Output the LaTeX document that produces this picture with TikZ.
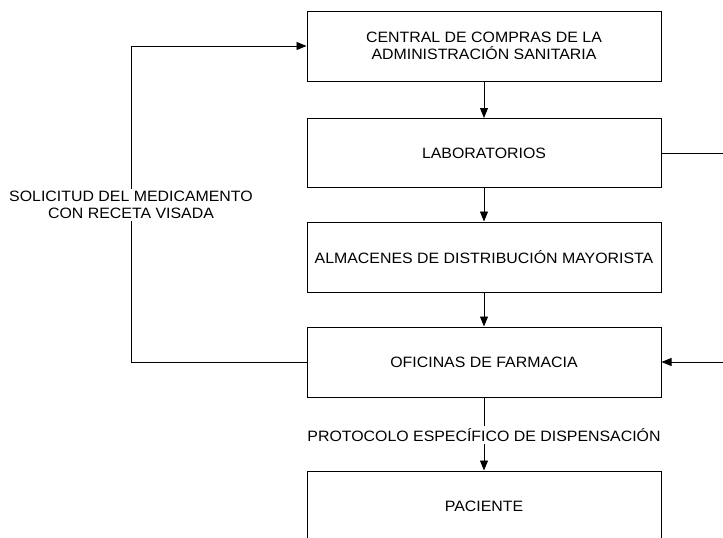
\documentclass[tikz,border=0pt]{standalone}
\usepackage{fontspec}
\setmainfont{Liberation Sans}[FakeStretch=1.06]
\usetikzlibrary{arrows.meta}
\begin{document}
\begin{tikzpicture}[x=1pt,y=-1pt,
  box/.style={draw, line width=1pt, minimum width=354pt, minimum height=70pt, align=center,
    font=\fontsize{15}{17}\selectfont, inner sep=0pt},
  arr/.style={-{Triangle[length=10pt,width=8pt]}, line width=0.9pt},
  lbl/.style={fill=white, align=center, inner sep=2pt, font=\fontsize{15}{17}\selectfont}]
\useasboundingbox (0,0) rectangle (723,538);
\clip (0,0) rectangle (723,538);
\node[box] (b1) at (484,46) {CENTRAL DE COMPRAS DE LA\\ADMINISTRACIÓN SANITARIA};
\node[box, minimum height=69pt] (b2) at (484,153) {LABORATORIOS};
\node[box] (b3) at (484,257) {ALMACENES DE DISTRIBUCIÓN MAYORISTA};
\node[box] (b4) at (484,362) {OFICINAS DE FARMACIA};
\node[box] (b5) at (484,506) {PACIENTE};
\coordinate (l) at (131,0);
\coordinate (r) at (745,0);
\draw[arr] (b1) -- (b2);
\draw[arr] (b2) -- (b3);
\draw[arr] (b3) -- (b4);
\draw[arr] (b4) -- (b5);
\draw[arr] (b2.east) -- (b2.east -| r) -- (b4.east -| r) -- (b4.east);
\draw[arr] (b4.west) -- (b4.west -| l) -- (b1.west -| l) -- (b1.west);
\node[lbl] (t1) at (131,205) {SOLICITUD DEL MEDICAMENTO\\CON RECETA VISADA};
\node[lbl] (t2) at (484,435) {PROTOCOLO ESPECÍFICO DE DISPENSACIÓN};
\end{tikzpicture}
\end{document}
